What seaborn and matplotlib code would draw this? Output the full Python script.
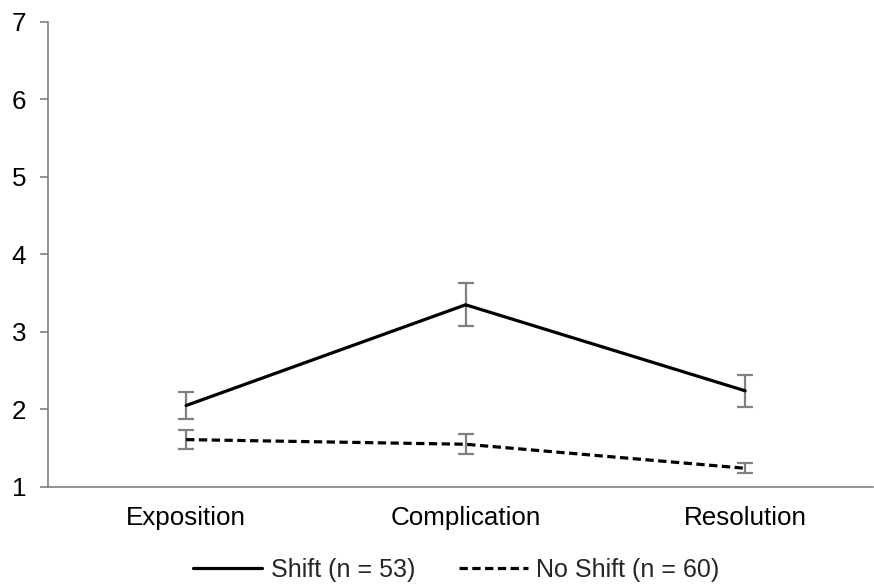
import matplotlib
matplotlib.use("Agg")
import matplotlib.pyplot as plt
import seaborn as sns
import pandas as pd

categories = ["Exposition", "Complication", "Resolution"]
shift_vals = [2.05, 3.35, 2.24]
shift_err = [0.18, 0.28, 0.21]
noshift_vals = [1.61, 1.55, 1.24]
noshift_err = [0.12, 0.13, 0.065]
series_names = ["Shift (n = 53)", "No Shift (n = 60)"]
y_ticks = [1, 2, 3, 4, 5, 6, 7]

sns.set_style("white")
plt.rcParams['font.family'] = ['Liberation Sans', 'DejaVu Sans']

df = pd.DataFrame({
    "cat": categories * 2,
    "x": list(range(len(categories))) * 2,
    "val": shift_vals + noshift_vals,
    "err": shift_err + noshift_err,
    "group": [series_names[0]] * 3 + [series_names[1]] * 3,
})

fig = plt.figure(figsize=(8.74, 5.88), dpi=100)
ax = fig.add_axes([0.055, 0.172, 0.944, 0.7906])

grey = "#808080"
FS = 18.7
for name in series_names:
    sub = df[df.group == name]
    ax.errorbar(sub.x, sub.val, yerr=sub.err, fmt="none", ecolor=grey,
                elinewidth=1.6, capsize=6, capthick=1.6, zorder=2)

sns.lineplot(data=df, x="x", y="val", hue="group", style="group",
             palette=["black", "black"],
             dashes={series_names[0]: "", series_names[1]: (2.6, 1.4)},
             linewidth=2.3, ax=ax, legend=True, zorder=3)

ax.set_xlim(-0.494, 2.458)
ax.set_ylim(1, 7)
ax.set_yticks(y_ticks)
ax.set_xticks(range(len(categories)))
ax.set_xticklabels(categories)
ax.set_xlabel("")
ax.set_ylabel("")
for s in ["top", "right"]:
    ax.spines[s].set_visible(False)
for s in ["left", "bottom"]:
    ax.spines[s].set_color(grey)
    ax.spines[s].set_linewidth(1.2)
ax.tick_params(axis="y", which="both", left=True, length=5.8, width=1.2,
               color=grey, labelsize=FS, labelcolor="black", pad=10)
ax.tick_params(axis="x", which="both", bottom=False, length=0,
               labelsize=FS, labelcolor="black", pad=14)

handles, labels = ax.get_legend_handles_labels()
ax.legend(handles, labels, loc="center", bbox_to_anchor=(0.495, -0.178),
          ncol=2, frameon=False, fontsize=18, handlelength=2.75,
          handletextpad=0.35, columnspacing=1.75, borderpad=0)

fig.savefig("out.png", dpi=100)
